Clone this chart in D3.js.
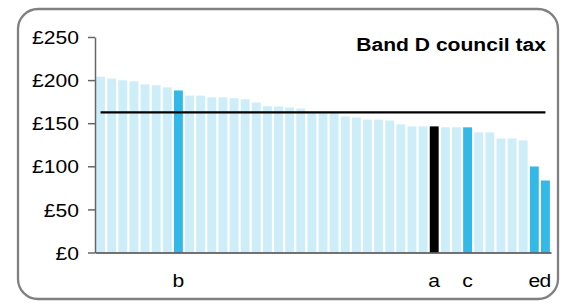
<!DOCTYPE html>
<html>
<head>
<meta charset="utf-8">
<script src="https://cdn.jsdelivr.net/npm/d3@7"></script>
<style>
  html, body { margin: 0; padding: 0; background: #fff; }
  svg { display: block; font-family: "Liberation Sans", Arial, sans-serif; }
</style>
</head>
<body>
<svg width="563" height="304"></svg>
<script>
// Band D council tax per authority (pounds), highest to lowest
const waarden = [204, 201.7, 199.8, 198.6, 195, 194, 191.6, 188, 182, 182,
  180, 180, 179, 177.7, 174, 169.6, 169.4, 168.2, 167, 162.3,
  162.3, 161.8, 157.8, 156.6, 154.2, 154.2, 153.1, 148.6, 146.3, 146.3,
  146.3, 145.2, 145.2, 145.2, 139.3, 139.3, 132.3, 132.3, 130, 99.8, 83.5];
// labels onder de uitgelichte staven
const labels = {7: "b", 30: "a", 33: "c", 39: "e", 40: "d"};
const soort = {7: "licht", 30: "zwart", 33: "licht", 39: "licht", 40: "licht"};
const yTicks = [0, 50, 100, 150, 200, 250];
const gemiddelde = 162.5;
const titel = "Band D council tax";

const svg = d3.select("svg");
const stretch = 1.14;

svg.append("rect")
  .attr("x", 18).attr("y", 9)
  .attr("width", 540).attr("height", 290)
  .attr("rx", 20)
  .attr("fill", "#fff")
  .attr("stroke", "#808080")
  .attr("stroke-width", 2.3);

const idx = waarden.map((d, i) => i);

const x = d3.scaleBand()
  .domain(idx)
  .range([95, 551])
  .paddingInner(0.2)
  .paddingOuter(0.1);

const y = d3.scaleLinear()
  .domain([0, 250])
  .range([252.5, 37]);

const kleur = i => soort[i] === "zwart" ? "#000" : (soort[i] ? "#33b9e8" : "#cdedf9");

svg.append("g").selectAll("rect")
  .data(waarden)
  .enter()
  .append("rect")
  .attr("x", (d, i) => x(i))
  .attr("y", d => y(d))
  .attr("width", x.bandwidth())
  .attr("height", d => y(0) - y(d))
  .attr("fill", (d, i) => kleur(i));

// gemiddelde lijn
svg.append("line")
  .attr("x1", x(0) + x.bandwidth() / 2)
  .attr("x2", x(waarden.length - 1) + x.bandwidth() / 2)
  .attr("y1", y(gemiddelde))
  .attr("y2", y(gemiddelde))
  .attr("stroke", "#000")
  .attr("stroke-width", 2.3);

// y-as
const yAxis = d3.axisLeft(y)
  .tickValues(yTicks)
  .tickSize(7)
  .tickSizeOuter(0)
  .tickFormat(d => "£" + d);

const gy = svg.append("g")
  .attr("transform", "translate(95,0)")
  .call(yAxis);
gy.select(".domain").attr("stroke", "#666").attr("stroke-width", 1.5);
gy.selectAll(".tick line").attr("stroke", "#666").attr("stroke-width", 1.5);
gy.selectAll(".tick text")
  .attr("x", null)
  .attr("dy", "0.36em")
  .attr("transform", `translate(-16,0) scale(${stretch},1)`)
  .attr("fill", "#000")
  .style("font-size", "18.5px")
  .style("font-family", "'Liberation Sans', Arial, sans-serif");

// x-as
const xAxis = d3.axisBottom(x)
  .tickSize(0)
  .tickSizeOuter(0)
  .tickFormat(i => labels[i] || "");

const gx = svg.append("g")
  .attr("transform", `translate(0,${y(0)})`)
  .call(xAxis);
gx.select(".domain").attr("stroke", "#444").attr("stroke-width", 1.5);
gx.selectAll(".tick text")
  .attr("y", null)
  .attr("dy", null)
  .attr("transform", `translate(0,34.5) scale(${stretch},1)`)
  .attr("fill", "#000")
  .style("font-size", "18.5px")
  .style("font-family", "'Liberation Sans', Arial, sans-serif");

// titel
svg.append("text")
  .attr("transform", `translate(546,50.7) scale(${stretch},1)`)
  .attr("text-anchor", "end")
  .style("font-size", "18.5px")
  .style("font-weight", "bold")
  .text(titel);
</script>
</body>
</html>
